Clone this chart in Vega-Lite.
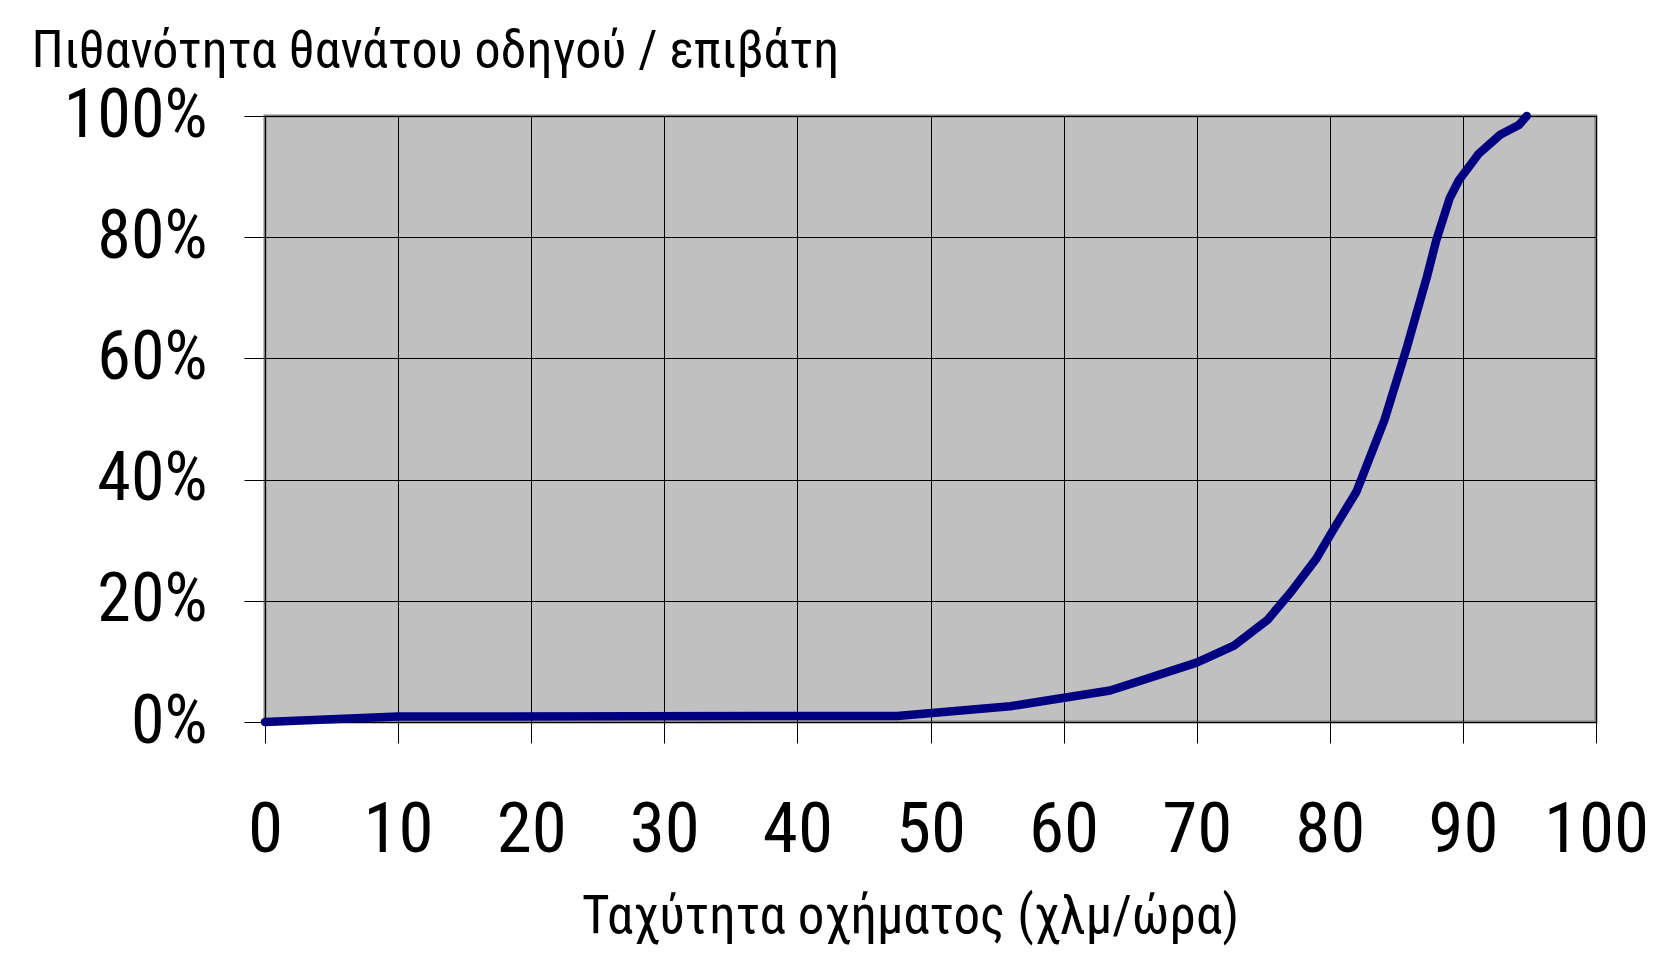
{
  "$schema": "https://vega.github.io/schema/vega-lite/v6.json",
  "width": 1331,
  "height": 606,
  "autosize": "none",
  "padding": {"left": 265, "top": 116, "right": 78, "bottom": 233},
  "background": "#FFFFFF",
  "data": {
    "values": [
      {"speed": 0, "prob": 0},
      {"speed": 10, "prob": 0.9},
      {"speed": 47.5, "prob": 1.0},
      {"speed": 56, "prob": 2.6},
      {"speed": 63.5, "prob": 5.2},
      {"speed": 70, "prob": 9.8},
      {"speed": 72.8, "prob": 12.6},
      {"speed": 75.3, "prob": 16.8},
      {"speed": 77.1, "prob": 21.5},
      {"speed": 79, "prob": 27},
      {"speed": 80.2, "prob": 31.5},
      {"speed": 82, "prob": 38},
      {"speed": 84.1, "prob": 49.8},
      {"speed": 85.8, "prob": 61.9},
      {"speed": 87.3, "prob": 73.5},
      {"speed": 88, "prob": 79.5},
      {"speed": 89, "prob": 86.4},
      {"speed": 89.7, "prob": 89.4},
      {"speed": 91.2, "prob": 93.8},
      {"speed": 92.8, "prob": 96.9},
      {"speed": 94.2, "prob": 98.5},
      {"speed": 94.8, "prob": 100}
    ]
  },
  "mark": {"type": "line", "color": "#000080", "strokeWidth": 8.5, "strokeCap": "round", "strokeJoin": "round", "clip": false},
  "encoding": {
    "x": {
      "field": "speed",
      "type": "quantitative",
      "scale": {"domain": [0, 100], "nice": false, "zero": false},
      "axis": {
        "values": [0, 10, 20, 30, 40, 50, 60, 70, 80, 90, 100],
        "title": "Ταχύτητα οχήματος (χλμ/ώρα)",
        "titleX": 645,
        "titleY": 210,
        "titleAlign": "center",
        "titleBaseline": "alphabetic",
        "titleFontSize": 53,
        "labelFontSize": 71,
        "labelBaseline": "alphabetic",
        "labelPadding": 108,
        "tickSize": 21,
        "labelFlush": false,
        "labelOverlap": false,
        "labelLimit": 0
      }
    },
    "y": {
      "field": "prob",
      "type": "quantitative",
      "scale": {"domain": [0, 100], "nice": false},
      "axis": {
        "values": [0, 20, 40, 60, 80, 100],
        "labelExpr": "datum.value + '%'",
        "title": "Πιθανότητα θανάτου οδηγού / επιβάτη",
        "titleAngle": 0,
        "titleX": -234,
        "titleY": -50,
        "titleAlign": "left",
        "titleBaseline": "alphabetic",
        "titleFontSize": 52,
        "labelFontSize": 68,
        "labelPadding": 37,
        "tickSize": 21,
        "labelFlush": false,
        "labelOverlap": false,
        "labelLimit": 0
      }
    }
  },
  "config": {
    "font": "Roboto Condensed, Liberation Sans, sans-serif",
    "view": {"fill": "#C0C0C0", "stroke": "#808080", "strokeWidth": 3},
    "axis": {
      "domain": false,
      "grid": true,
      "gridColor": "#000000",
      "gridOpacity": 1,
      "gridWidth": 1,
      "tickColor": "#000000",
      "tickWidth": 1,
      "labelColor": "#000000",
      "titleColor": "#000000",
      "labelFont": "Roboto Condensed, Liberation Sans, sans-serif",
      "titleFont": "Roboto Condensed, Liberation Sans, sans-serif",
      "labelFontWeight": "normal",
      "titleFontWeight": "normal"
    }
  }
}
